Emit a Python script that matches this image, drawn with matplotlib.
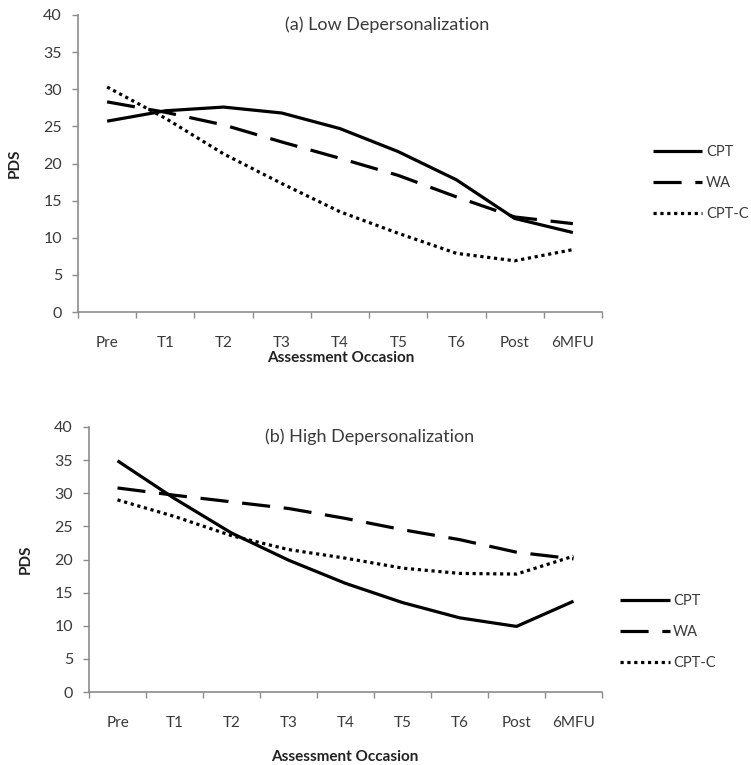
import matplotlib
matplotlib.use("Agg")
import numpy as np
from matplotlib import pyplot as plt
from matplotlib.ticker import FixedLocator, NullFormatter, FixedFormatter

occasions = ["Pre", "T1", "T2", "T3", "T4", "T5", "T6", "Post", "6MFU"]
groups = ["CPT", "WA", "CPT-C"]

low_cpt = [25.7, 27.1, 27.6, 26.8, 24.7, 21.6, 17.8, 12.6, 10.7]
low_wa = [28.3, 26.9, 25.2, 22.9, 20.7, 18.4, 15.5, 12.8, 11.9]
low_cptc = [30.3, 26.1, 21.3, 17.3, 13.5, 10.6, 7.9, 6.9, 8.4]

high_cpt = [34.9, 29.2, 24.0, 19.9, 16.4, 13.5, 11.2, 9.9, 13.7]
high_wa = [30.8, 29.7, 28.7, 27.7, 26.2, 24.5, 23.0, 21.1, 20.1]
high_cptc = [29.0, 26.5, 23.6, 21.5, 20.2, 18.7, 17.9, 17.8, 20.5]

plt.rcParams['font.family'] = ['Lato', 'DejaVu Sans']
text_col = '#3a3a3a'
axis_col = '#8c8c8c'

fig = plt.figure(figsize=(7.51, 7.65), dpi=100)
W, H = 751, 765


def panel(box, title, title_xy, series, ylab_xy, xlab_xy, leg_xy):
    l, t, r, b = box
    ax = fig.add_axes([l / W, 1 - b / H, (r - l) / W, (b - t) / H])
    x = np.arange(len(occasions)) + 0.5
    styles = [dict(linestyle='-'),
              dict(linestyle=(0, (8.8, 4.3))),
              dict(linestyle=(0, (1, 1.15)))]
    for vals, name, st in zip(series, groups, styles):
        ax.plot(x, vals, color='black', lw=2.3, label=name,
                solid_capstyle='butt', dash_capstyle='butt', **st)
    ax.set_xlim(0, len(occasions))
    ax.set_ylim(0, 40)
    ax.set_yticks(range(0, 41, 5))
    ax.xaxis.set_major_locator(FixedLocator(np.arange(len(occasions) + 1)))
    ax.xaxis.set_major_formatter(NullFormatter())
    ax.xaxis.set_minor_locator(FixedLocator(x))
    ax.xaxis.set_minor_formatter(FixedFormatter(occasions))
    ax.tick_params(axis='x', which='major', length=4.5, width=1, color=axis_col, direction='out')
    ax.tick_params(axis='x', which='minor', length=0, pad=17, labelsize=11, labelcolor=text_col)
    ax.tick_params(axis='y', length=4.5, width=1, color=axis_col, pad=7, labelsize=11.5, labelcolor=text_col)
    for s in ['top', 'right']:
        ax.spines[s].set_visible(False)
    for s in ['left', 'bottom']:
        ax.spines[s].set_color(axis_col)
        ax.spines[s].set_linewidth(1.2)
    ax.text(title_xy[0], title_xy[1], title, transform=ax.transAxes,
            ha='center', va='center', fontsize=13, color=text_col)
    ax.set_ylabel('PDS', fontsize=11, fontweight='bold', color='#222222')
    ax.yaxis.set_label_coords(*ylab_xy)
    ax.set_xlabel('Assessment Occasion', fontsize=11, fontweight='bold', color='#222222')
    ax.xaxis.set_label_coords(*xlab_xy)
    ax.legend(loc='center left', bbox_to_anchor=leg_xy, frameon=False,
              borderpad=0, borderaxespad=0, handlelength=3.4, handletextpad=0.25,
              labelspacing=1.15, fontsize=10.5, labelcolor=text_col)
    return ax


panel((78, 15, 602, 312), '(a) Low Depersonalization', (0.59, 0.966),
      [low_cpt, low_wa, low_cptc], (-0.107, 0.5), (0.502, -0.13), (1.097, 0.434))
panel((89, 427, 602, 692), '(b) High Depersonalization', (0.546, 0.962),
      [high_cpt, high_wa, high_cptc], (-0.109, 0.5), (0.499, -0.219), (1.035, 0.226))

fig.savefig('out.png', dpi=100, facecolor='white')
